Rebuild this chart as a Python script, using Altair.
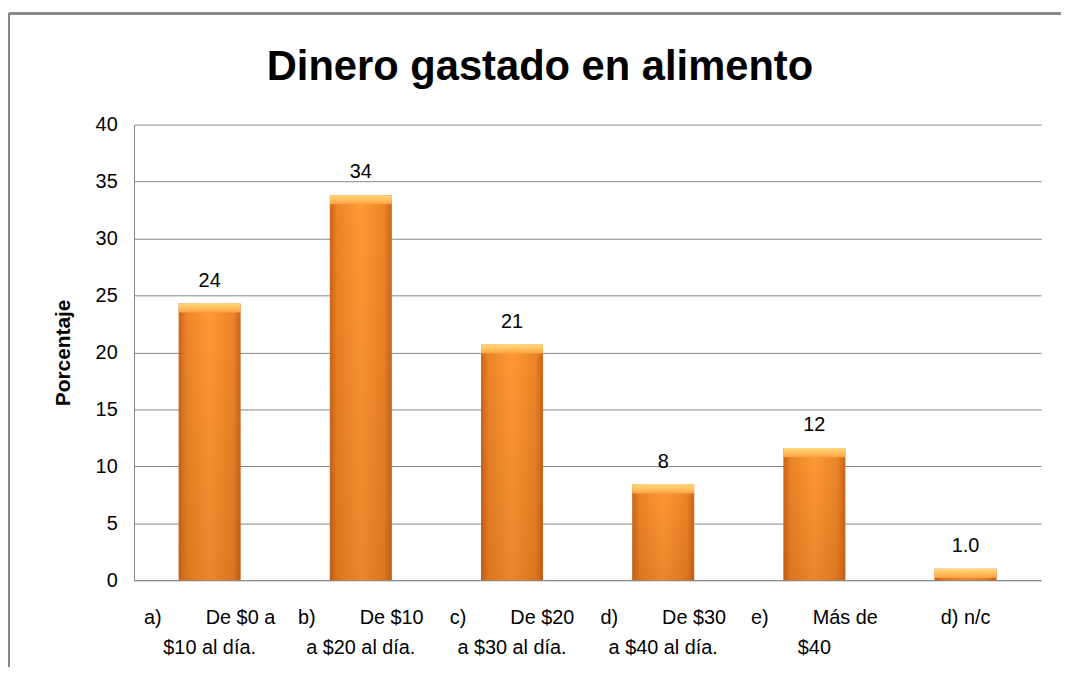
import altair as alt
import pandas as pd

NB = "\u00a0"
categories = [
    "a)" + NB * 8 + "De $0 a|$10 al día.",
    "b)" + NB * 8 + "De $10|a $20 al día.",
    "c)" + NB * 8 + "De $20|a $30 al día.",
    "d)" + NB * 8 + "De $30|a $40 al día.",
    "e)" + NB * 8 + "Más de|$40" + NB * 14,
    "d) n/c",
]
values = [24.3, 33.8, 20.7, 8.4, 11.6, 1.0]
label_text = ["24", "34", "21", "8", "12", "1.0"]
title_text = ["Dinero gastado en alimento"]

df = pd.DataFrame({"cat": categories, "v": values, "lab": label_text})
tdf = pd.DataFrame({"t": title_text})

FONT = "Liberation Sans, Arial, sans-serif"
W, H = 914, 459

x_enc = alt.X(
    "cat:N",
    sort=categories,
    scale=alt.Scale(paddingInner=0.59, paddingOuter=0.295),
    axis=alt.Axis(
        title=None,
        labelAngle=0,
        labelExpr="split(datum.label, '|')",
        labelFont=FONT,
        labelFontSize=20,
        labelColor="#000000",
        labelLineHeight=30,
        labelPadding=28,
        ticks=False,
        domainColor="#868686",
        labelLimit=220,
    ),
)
y_scale = alt.Scale(domain=[0, 40], nice=False)
y_enc = alt.Y(
    "v:Q",
    scale=y_scale,
    axis=alt.Axis(
        title="Porcentaje",
        titleFont=FONT,
        titleFontSize=21,
        titleFontWeight="bold",
        titleColor="#000000",
        titlePadding=22,
        values=[0, 5, 10, 15, 20, 25, 30, 35, 40],
        labelFont=FONT,
        labelFontSize=20,
        labelColor="#000000",
        labelPadding=17,
        ticks=False,
        domainColor="#868686",
        gridColor="#868686",
        gridOpacity=1,
    ),
)

base = alt.Chart(df)

bars = base.mark_bar(
    color=alt.Gradient(
        gradient="linear",
        stops=[
            alt.GradientStop(color="#C9651A", offset=0),
            alt.GradientStop(color="#EC8428", offset=0.12),
            alt.GradientStop(color="#FF9A36", offset=0.5),
            alt.GradientStop(color="#EC8428", offset=0.88),
            alt.GradientStop(color="#C9651A", offset=1),
        ],
        x1=0, x2=1, y1=0, y2=0,
    )
).encode(x=x_enc, y=y_enc)

shade = base.mark_bar(
    color=alt.Gradient(
        gradient="linear",
        stops=[
            alt.GradientStop(color="rgba(150,60,0,0)", offset=0),
            alt.GradientStop(color="rgba(150,60,0,0.2)", offset=1),
        ],
        x1=0, x2=0, y1=0, y2=1,
    )
).encode(x=alt.X("cat:N", sort=categories), y=alt.Y("v:Q", scale=y_scale))

bevel = base.transform_calculate(v2="max(datum.v - 0.8, 0)").mark_bar(
    color=alt.Gradient(
        gradient="linear",
        stops=[
            alt.GradientStop(color="#FFD77A", offset=0),
            alt.GradientStop(color="#FFC060", offset=0.5),
            alt.GradientStop(color="#FFA040", offset=1),
        ],
        x1=0, x2=0, y1=0, y2=1,
    )
).encode(
    x=alt.X("cat:N", sort=categories),
    y=alt.Y("v:Q", scale=y_scale),
    y2="v2:Q",
)

labels = base.mark_text(
    font=FONT, fontSize=20, color="#000000", dy=-17, baseline="alphabetic"
).encode(
    x=alt.X("cat:N", sort=categories),
    y=alt.Y("v:Q", scale=y_scale),
    text="lab:N",
)

title = alt.Chart(tdf).mark_text(
    font=FONT, fontSize=42, fontWeight="bold", color="#000000",
    baseline="alphabetic", align="center",
).encode(x=alt.value(409), y=alt.value(-45), text="t:N")

border_top = base.mark_rule(color="#888888", strokeWidth=2).encode(
    x=alt.value(-126), x2=alt.value(W + 60), y=alt.value(-112)
)
border_left = base.mark_rule(color="#888888", strokeWidth=2).encode(
    x=alt.value(-126), y=alt.value(-112), y2=alt.value(H + 100)
)

chart = (
    alt.layer(bars, shade, bevel, labels, title, border_top, border_left)
    .properties(
        width=W,
        height=H,
        autosize=alt.AutoSizeParams(type="none"),
        padding={"left": 127, "top": 115, "right": 20, "bottom": 85},
    )
    .configure_view(stroke=None)
)

chart.save("out.html", embed_options={"renderer": "svg", "actions": False})
